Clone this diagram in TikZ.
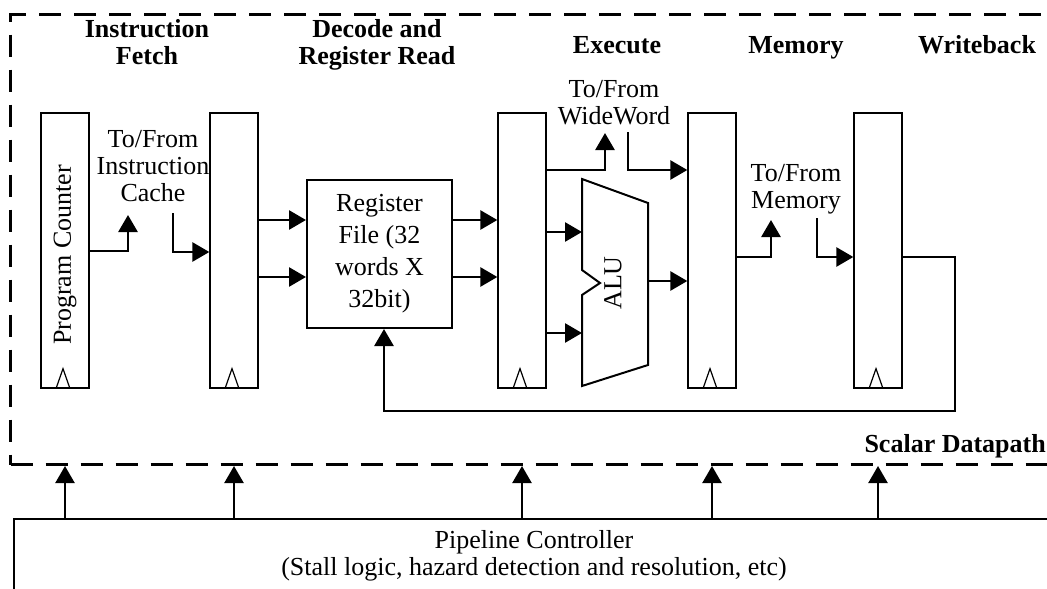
\documentclass[tikz,border=0pt]{standalone}
\usepackage{fontspec}
\setmainfont{Liberation Serif}
\usetikzlibrary{arrows.meta}
\begin{document}
\begin{tikzpicture}[x=1pt,y=-1pt,
  txt/.style={inner sep=0pt, align=center, font={\fontsize{26}{27}\selectfont}},
  stage/.style={inner sep=0pt, align=center, font={\fontsize{26}{27}\selectfont\bfseries}},
  latch/.style={draw, line width=1.3pt, minimum width=48pt, minimum height=275pt, inner sep=0pt},
  arr/.style={line width=2.7pt, -{Triangle[length=17pt,width=19pt]}},
  carr/.style={line width=2.3pt, -{Triangle[length=17pt,width=19pt]}},
  clk/.style={line width=1.2pt}
]
\useasboundingbox (0,0) rectangle (1047,589);

% scalar datapath (dashed region)
\node[draw, line width=3pt, dash pattern=on 22pt off 13pt, anchor=north west,
      minimum width=1060pt, minimum height=450pt, inner sep=0pt] (dp) at (9,13) {};

% pipeline controller
\node[draw, line width=2pt, anchor=north west, minimum width=1040pt, minimum height=74pt,
      txt] (ctrl) at (13,518) {Pipeline Controller\\(Stall logic, hazard detection and resolution, etc)};

% stage labels
\node[stage] (sIF) at (147,42.5) {Instruction\\Fetch};
\node[stage] (sID) at (377,45) {Decode and\\Register Read};
\node[stage] (sEX) at (617,45.5) {Execute};
\node[stage] (sMEM) at (796,48) {Memory};
\node[stage] (sWB) at (977,45) {Writeback};
\node[stage, anchor=base east] (sdp) at (1046,452) {Scalar Datapath};

% pipeline latches
\node[latch] (pc) at (65,250.5) {};
\node[latch] (l2) at (234,250.5) {};
\node[latch] (l3) at (522,250.5) {};
\node[latch] (l4) at (712,250.5) {};
\node[latch] (l5) at (878,250.5) {};
\node[txt, rotate=90] (pclabel) at (65,255) {Program Counter};

\foreach \n in {pc,l2,l3,l4,l5}{
  \draw[clk] ([xshift=-9pt]\n.south) -- ([xshift=-2pt,yshift=20pt]\n.south) -- ([xshift=5pt]\n.south);
}

% register file
\node[draw, line width=2pt, minimum width=145pt, minimum height=148pt, inner sep=0pt,
      align=center, font={\fontsize{26}{32}\selectfont}] (rf) at (379.5,254)
      {Register\\File (32\\words X\\32bit)};

% ALU
\coordinate (aluA) at (582,179);
\coordinate (aluB) at (648,203);
\coordinate (aluC) at (648,365);
\coordinate (aluD) at (582,386);
\draw[line width=2pt, line join=miter] (aluA) -- (aluB) -- (aluC) -- (aluD) -- (582,295) -- (600,283) -- (582,270) -- cycle;
\node[txt, rotate=90] (alulabel) at (613,283) {ALU};
\coordinate (aluin1) at (582,232);
\coordinate (aluin2) at (582,333);
\coordinate (aluout) at (648,281);

% external interface labels
\node[txt] (icache) at (153,166.5) {To/From\\Instruction\\Cache};
\node[txt] (wword) at (614,102.5) {To/From\\WideWord};
\node[txt] (mem) at (796,189) {To/From\\Memory};

\coordinate (icin) at (128,215);
\coordinate (icout) at (173,213);
\coordinate (wwin) at (605,133);
\coordinate (wwout) at (628,132);
\coordinate (memin) at (771,220);
\coordinate (memout) at (817,218);
\coordinate (wbturn) at (955,411);

% connectors
\draw[arr] (pc.east |- 0,251) -| (icin);
\draw[arr] (icout) |- (l2.west |- 0,252);
\draw[arr] (l2.east |- 0,220) -- (rf.west |- 0,220);
\draw[arr] (l2.east |- 0,277) -- (rf.west |- 0,277);
\draw[arr] (rf.east |- 0,220) -- (l3.west |- 0,220);
\draw[arr] (rf.east |- 0,277) -- (l3.west |- 0,277);
\draw[arr] (l3.east |- aluin1) -- (aluin1);
\draw[arr] (l3.east |- aluin2) -- (aluin2);
\draw[arr] (l3.east |- 0,170) -| (wwin);
\draw[arr] (wwout) |- (l4.west |- 0,170);
\draw[arr] (aluout) -- (l4.west |- aluout);
\draw[arr] (l4.east |- 0,257) -| (memin);
\draw[arr] (memout) |- (l5.west |- 0,257);
\draw[arr] (l5.east |- 0,257) -| (wbturn) -| ([xshift=4.5pt]rf.south);

% controller signals
\foreach \n in {pc,l2,l3,l4,l5}{
  \draw[carr] (\n.south |- ctrl.north) -- (\n.south |- dp.south);
}
\end{tikzpicture}
\end{document}
